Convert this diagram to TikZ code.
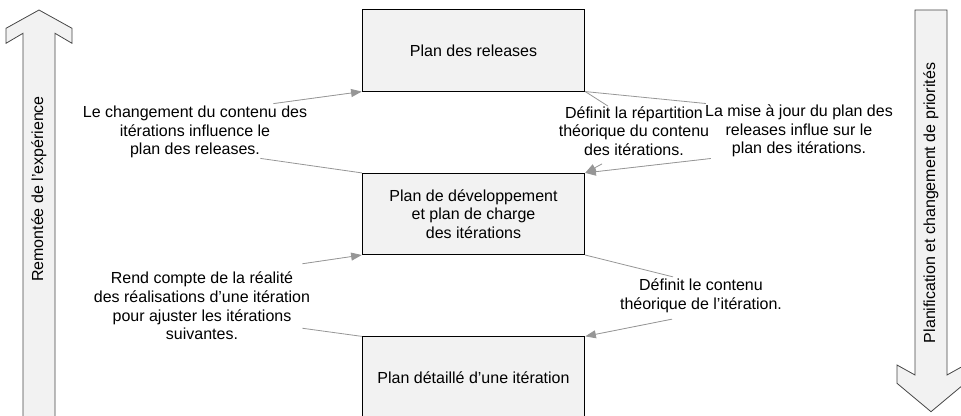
\documentclass[tikz,border=0pt]{standalone}
\usepackage{fontspec}
\setmainfont{Liberation Sans}
\usetikzlibrary{arrows.meta, positioning, calc}

\definecolor{panelgray}{RGB}{242,242,242}
\definecolor{linkgray}{RGB}{150,150,150}
\definecolor{rimgray}{RGB}{70,70,70}

\tikzset{
  planbox/.style={draw=black, fill=panelgray, line width=0.6pt, minimum width=167pt,
    minimum height=61pt, align=center, font=\fontsize{12}{13.8}\selectfont},
  lbl/.style={align=center, inner sep=0pt, font=\fontsize{12}{14}\selectfont},
  link/.style={color=linkgray, line width=0.6pt},
  arr/.style={-{Triangle[length=8pt,width=6pt]}, color=linkgray, fill=linkgray},
  bigarrow/.style={draw=rimgray, fill=panelgray, line width=0.6pt}
}

\begin{document}
\begin{tikzpicture}[x=0.75pt, y=0.75pt, node distance=61pt]
    \clip (0,0) rectangle (961,415);

    % Draw the side arrows
    \draw[bigarrow] (23,-5) -- (23,381.7) -- (6,371.7) -- (6,386.7) -- (39,405)
        -- (72,386.7) -- (72,371.7) -- (55,381.7) -- (55,-5) -- cycle;
    \node[lbl, rotate=90] (up) at (39,226) {Remontée de l'expérience};

    \draw[bigarrow] (915,405) -- (915,40) -- (897,50) -- (897,31.7) -- (931,3.3)
        -- (965,31.7) -- (965,50) -- (947,40) -- (947,405) -- cycle;
    \node[lbl, rotate=90] (down) at (931,212) {Planification et changement de priorités};

    % Draw the plans
    \node[planbox] (rel) at (473.5,364.5) {Plan des releases};
    \node[planbox, below=of rel] (dev) {Plan de développement\\et plan de charge\\des itérations};
    \node[planbox, below=of dev] (it)  {Plan détaillé d’une itération};

    % Draw the comments
    \node[lbl] (lchg)  at (195,283) {Le changement du contenu des\\itérations influence le\\plan des releases.};
    \node[lbl] (lrep)  at (634,284) {Définit la répartition\\théorique du contenu\\des itérations.};
    \node[lbl] (lmaj)  at (799,284) {La mise à jour du plan des\\releases influe sur le\\plan des itérations.};
    \node[lbl] (lrend) at (202,109) {Rend compte de la réalité\\des réalisations d’une itération\\pour ajuster les itérations\\suivantes.};
    \node[lbl] (ldef)  at (701,119) {Définit le contenu\\théorique de l’itération.};

    % Connect the plans through the comments
    \draw[link]
        (dev.north west) edge ($(lchg.south east)+(-47,0)$)
        ($(lchg.north east)+(-34,2)$) edge[arr] (rel.south west)
        (rel.south east) edge ($(lrep.north)+(-26,0)$)
        ($(lrep.south)+(-32,-8)$) edge[arr] (dev.north east)
        (rel.south east) edge ($(lmaj.north west)+(1,1)$)
        ($(lmaj.south west)+(6,-1)$) edge[arr] (dev.north east)
        (it.north west) edge ($(lrend.south east)+(-8,12)$)
        ($(lrend.north east)+(-8,8)$) edge[arr] (dev.south west)
        (dev.south east) edge ($(ldef.north)+(-28,2)$)
        ($(ldef.south)+(-29,-6)$) edge[arr] (it.north east);
\end{tikzpicture}
\end{document}
